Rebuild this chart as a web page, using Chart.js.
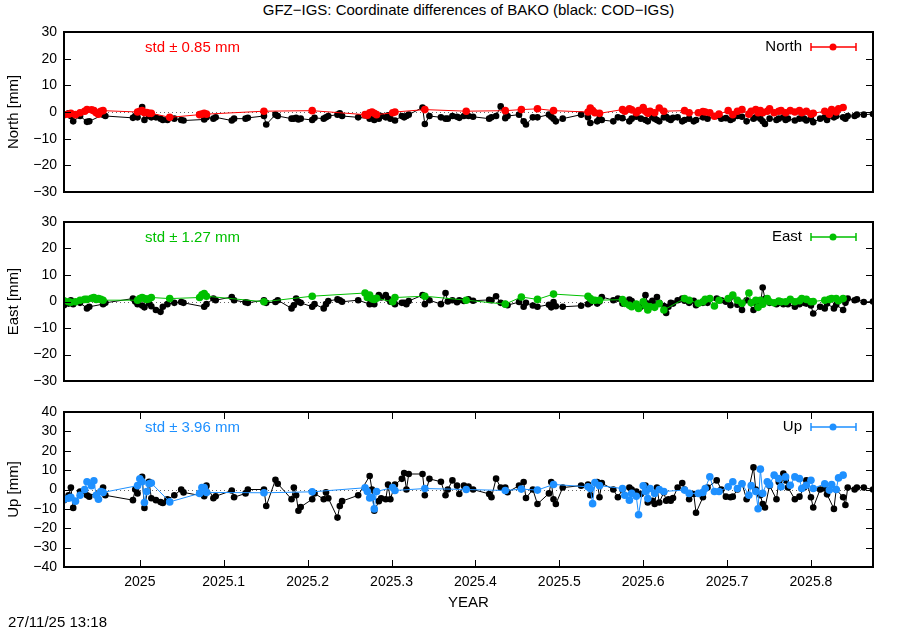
<!DOCTYPE html>
<html>
<head>
<meta charset="utf-8">
<script src="https://cdn.jsdelivr.net/npm/chart.js@4.4.1/dist/chart.umd.min.js"></script>
<style>
body { margin: 0; background: #fff; width: 900px; height: 630px; position: relative; overflow: hidden;
       font-family: "Liberation Sans", Arial, sans-serif; color: #000; }
canvas { position: absolute; left: 0; }
#title { position: absolute; top: 1px; left: 64px; width: 809px; text-align: center; font-size: 15px; line-height: 18px; }
#stamp { position: absolute; left: 8px; top: 613px; font-size: 15px; line-height: 18px; }
</style>
</head>
<body>
<div id="title">GFZ−IGS: Coordinate differences of BAKO (black: COD−IGS)</div>
<canvas id="north" width="900" height="200" style="top:0px"></canvas>
<canvas id="east" width="900" height="190" style="top:200px"></canvas>
<canvas id="up" width="900" height="240" style="top:390px"></canvas>
<div id="stamp">27/11/25 13:18</div>
<script>
// days relative to 2025.0
var codDay = [-33,-31,-30,-29,-26,-23,-22,-16,-15,-3,
  -2,-1,1,2,4,5,7,9,10,12,
  15,18,19,28,29,32,33,40,41,46,
  47,54,55,59,60,66,67,68,69,70,
  75,76,80,81,82,86,87,88,95,100,
  101,102,104,105,107,108,109,111,114,115,
  116,117,123,124,126,131,133,134,136,138,
  139,141,143,145,152,153,155,157,159,160,
  165,167,168,171,173,178,179,180,181,184,
  192,195,196,199,200,201,206,208,210,213,
  214,216,218,220,221,223,224,225,226,228,
  229,230,231,232,234,236,237,239,241,242,
  245,247,251,253,255,257,258,260,262,264,
  267,268,270,271,272,274,277,278,280,281,
  282,285,287,289,290,292,293,296,298,299,
  302,303,306,307,308,311,312,315,319];

var codNorth = [-1,-0.5,-1.5,-3.5,-1.5,-3.7,-3.5,-1,-1.5,-2.2,
  -1.5,-2,1.9,-3,-1.5,-2,-2,-2.5,-3,-3,
  -2.5,-3,-3.2,-2.8,-2,-2.5,-2,-3.2,-2.5,-2.5,
  -2.2,-1.5,-4.7,-1,-1.5,-2.5,-2.5,-2.2,-2.8,-2.5,
  -3,-2.2,-2.5,-2,-1.5,-1,-0.5,-1.5,-2,-2.5,
  -1,-3,-2.5,-1.5,-2,-1.2,-2.5,-3.2,-1.5,-2,
  -1.5,-1,1.7,-4.5,-1.5,-2,-2.5,-2.5,-1.5,-1.8,
  -2.2,-1.5,-1.5,-1.8,-2.5,-2,-1.5,2.1,-2.3,-1.5,
  -1,-3.5,-4.7,-2,-2,-1,-1.8,-2.5,-3.5,-2.5,
  -1,-2,-4.1,-3.5,-2.5,-3,-3.5,-2,-2.3,-3.5,
  -2.5,-1.8,-2.5,-3,-3.5,-2,-2.5,-3,-3.5,-2,
  -1.8,-2.5,-3,-2.2,-2,-3.5,-3,-2.5,-3.5,-3,
  -2,-2.5,-1.5,-2.5,-2.3,-3,-2.5,-1.5,-1.8,-3.5,
  -2.5,-2,-2.5,-3.5,-4.5,-2.5,-3,-2.5,-2,-3,
  -2.5,-3.2,-2.5,-2.5,-3.2,-2.5,-3.8,-2.5,-2,-3,
  -2,-1.5,-2,-2.5,-1.5,-1.5,-1,-1,-0.75];

var codEast = [-1.4,-0.8,0.5,-1,-0.5,-2.6,-2,-1,-0.5,1.1,
  0,-1,-1.5,-2.2,-0.8,-1.8,-3.2,-3.9,-2,-1,
  -0.5,-0.2,-0.5,-2,-1,1.1,0.5,1.7,0.5,-0.3,
  -0.5,0.5,-0.5,-0.2,0.5,-2.6,-1.4,1.1,-0.1,-0.5,
  -2,-1,-2.6,-1,0.2,0.8,0.5,-0.1,0.5,-1,
  0.5,-1,2.4,1.5,2.4,1,-0.1,-1,-0.5,-0.5,
  -1,0.2,2.4,-1,0.5,-1,3.2,0,0.5,-0.3,
  0.5,0.2,0.8,0.3,0.6,0.5,2,-0.5,-1,-1.4,
  -0.2,-2,-0.5,-1.5,-2,-1.2,-2.2,-0.2,-1.8,-2,
  -1.6,-1,-0.5,-0.8,0,1.7,0.5,1.1,-0.8,0.7,
  0.2,-1.4,-2,2.4,-0.8,0.3,-1.5,1.7,-0.5,-1.7,
  -4.3,-2,-0.5,-0.8,0.5,1.1,0.3,-0.5,0.3,-1.4,
  -0.5,-0.5,1.1,0.5,-0.1,-1.4,2,-1.2,-3.2,0.5,
  -3.2,-0.5,-1,5.3,1,-0.5,-1,-0.5,-1,-0.5,
  -1,-2,-1,-0.5,-0.8,-1.5,-4.5,-2,-2.6,-0.8,
  -2.6,-1.2,-3.2,-0.5,1.1,0.5,0.8,-0.2,0];

var codUp = [-5.5,-3,1,-9.5,-1,-3,-3.7,1,-3,-5.5,
  0,-2,6.5,-9.5,4,-4.5,-5.5,-6.5,-7,-5,
  -3,0,-1.5,-3.5,2,-4.5,-3.5,-0.5,-4,-2,
  0,0,-8.5,5,3,-5,1,-3,-11,-9,
  -5,-2,-5,-1.5,-4.5,-14.5,-8.5,-6,-3,7,
  0,-11,-6,-4.5,-5,2.5,-5,2.5,5.5,8.5,
  0,8,8,-3,5.5,4,-3,0,4.7,2,
  -2.3,2,1.5,0,-2.3,-4,5.6,1,1,-1.4,
  2,3.9,-4.4,0,-7.5,-2,3.9,-5,-7.5,1,
  2,2.6,-3,3.9,-4,3.3,0,-4,0,1,
  0,-1,-2.3,2,-6.7,-5.8,-7.5,1,-6.7,-1.4,
  -5.8,-5,-5.8,-4.4,1,3.3,0,-5,-2.3,-12,
  -4,1,4.7,0,-3.7,-4,-3.7,0,3,-5,
  11.4,0,-3,-7.5,-9.3,2,-5,3.9,8.2,4.7,
  1,-5,-3.7,1,4.7,-4,-9.3,0,0.5,-2.5,
  -10,0,-4,-8,1,0,1,1,0];

var gfzDay = [-33,-31,-30,-28,-26,-24,-23,-21,-20,-19,-18,-17,-16,
  -1,0,1,2,3,4,5,
  13,
  26,27,28,29,
  54,
  75,
  98,99,100,101,102,103,
  110,111,
  124,
  142,159,166,173,180,
  195,196,197,198,200,
  210,211,213,214,216,217,219,220,221,222,224,226,228,
  237,239,243,245,246,248,250,252,
  256,258,260,262,265,266,268,269,270,271,273,274,276,278,279,281,283,285,287,288,290,292,293,
  298,300,301,303,304,306];

var gfzNorth = [-1,-0.8,-0.5,-1,-0.3,0.3,0.9,0.8,0.5,-0.3,-0.8,0.3,0.5,
  0,0.3,0.5,-0.3,-0.2,-0.5,-0.5,
  -2,
  -1,-0.8,-0.5,-0.8,
  0.3,
  0.5,
  -1,-1.2,-0.3,0,-0.5,-1,
  -0.3,0,
  0.9,
  0.3,0.5,0.9,1.2,0.5,
  0,1.5,0.5,-0.3,-0.5,
  0.9,0.3,1.2,0.8,-0.3,0.5,1.7,0.3,-0.5,0.3,-0.3,1.5,0.3,
  0.5,-0.3,-0.3,0.2,0,-0.3,-1.6,-0.8,
  0.5,-1,0.3,0.9,-0.8,0.3,0.9,-0.3,0.5,-0.3,0.3,1.2,-0.3,0.3,0.5,-0.3,0.5,0,0.5,-0.3,0.3,-0.8,-0.5,
  0.3,-0.8,0.9,0,1.2,1.7];

var gfzEast = [0.3,-0.1,-0.3,-0.1,0.5,0.8,0.8,1.2,1.5,0.8,1.1,0.8,0.5,
  0.5,1.1,1.5,1.1,0.8,1,1.5,
  1.1,
  1.5,2.5,3,2,
  -0.1,
  2,
  3.2,1.5,2.4,1,0.8,1.2,
  -0.1,1.5,
  2,
  0.5,-1,1.7,0.8,2.8,
  2,1.1,0.5,0.5,0.5,
  0.7,-0.7,-1.4,-2,-1,-2.6,-0.1,-1.5,-3.2,-2,-2.2,-0.8,-3.2,
  1.1,0.5,-0.7,-0.1,0.8,1.1,-1.7,0.5,
  1.1,2.4,0.5,-0.7,3.2,-0.5,0.5,-2.2,0.5,-1,1.1,-0.1,-0.5,0.2,-0.1,-0.1,0.8,-0.1,0.3,1.1,0.8,-0.1,0,
  0.5,0.8,1.1,1.1,0.3,1.1];

var gfzUp = [-5,-4.5,-4,-6,-3,0,4,2,4.5,-3,-5,-1,-1.5,
  2,5.5,4,-6.7,-1,3,3.3,
  -6.4,
  -2,1,1,-1.5,
  -1.7,
  -1.2,
  0.9,-1,-4.4,-4,-10,-1,
  1,-0.5,
  0.5,
  0,-0.5,0.2,-0.3,2.6,
  1.4,0.5,-7.3,3.6,2,
  0.5,-3,-5.5,-2,-3.5,-13,1.9,-1,-4.7,0.5,-2,0,-1,
  -0.3,-2,-2,-1.5,0.5,6.6,-1,-1,
  1.4,4,0.5,3,-3,2,-1,-9.9,10.5,-2,4,2.5,7.4,5.6,1.4,6.5,2.2,6.5,5.6,0.5,2.2,4.8,0.5,
  3,-0.3,2.6,0,6,7.4];

var xTicks = [2025, 2025.1, 2025.2, 2025.3, 2025.4, 2025.5, 2025.6, 2025.7, 2025.8];
var yTicksNE = [-30, -20, -10, 0, 10, 20, 30];
var yTicksUp = [-40, -30, -20, -10, 0, 10, 20, 30, 40];

var FONT = '"Liberation Sans", Arial, sans-serif';

function toYear(d) { return 2025 + d / 365; }
function pts(days, vals) {
  return days.map(function (d, i) { return { x: toYear(d), y: vals[i] }; });
}
function minusFmt(v) { return v < 0 ? '\u2212' + (-v) : String(v); }

// gnuplot look: frame, inward mirrored ticks, dotted zero line, std text, key
var decor = {
  id: 'decor',
  beforeDatasetsDraw: function (chart, args, o) {
    var ctx = chart.ctx, a = chart.chartArea;
    var y0 = chart.scales.y.getPixelForValue(0);
    ctx.save();
    ctx.strokeStyle = '#666';
    ctx.lineWidth = 1;
    ctx.setLineDash([1, 3]);
    ctx.beginPath();
    ctx.moveTo(a.left, Math.round(y0) + 0.5);
    ctx.lineTo(a.right, Math.round(y0) + 0.5);
    ctx.stroke();
    ctx.restore();
  },
  afterDraw: function (chart, args, o) {
    var ctx = chart.ctx, a = chart.chartArea;
    var ys = chart.scales.y, xs = chart.scales.x;
    ctx.save();
    ctx.strokeStyle = '#000';
    ctx.lineWidth = 1;
    ys.ticks.forEach(function (t) {
      var p = Math.round(ys.getPixelForValue(t.value)) + 0.5;
      ctx.beginPath();
      ctx.moveTo(a.left, p); ctx.lineTo(a.left + 7, p);
      ctx.moveTo(a.right - 7, p); ctx.lineTo(a.right, p);
      ctx.stroke();
    });
    if (o.xTicks) {
      xs.ticks.forEach(function (t) {
        var p = Math.round(xs.getPixelForValue(t.value)) + 0.5;
        ctx.beginPath();
        ctx.moveTo(p, a.bottom); ctx.lineTo(p, a.bottom - 7);
        ctx.moveTo(p, a.top); ctx.lineTo(p, a.top + 7);
        ctx.stroke();
      });
    }
    ctx.lineWidth = 2;
    ctx.strokeRect(a.left, a.top, a.right - a.left, a.bottom - a.top);

    ctx.font = '15px ' + FONT;
    ctx.textBaseline = 'middle';
    ctx.fillStyle = o.color;
    ctx.textAlign = 'left';
    ctx.fillText(o.std, 145, a.top + 16);

    ctx.fillStyle = '#000';
    ctx.textAlign = 'right';
    var ky = a.top + 15;
    ctx.fillText(o.name, a.right - 71, ky);
    ctx.strokeStyle = o.color;
    ctx.lineWidth = 1.5;
    ctx.beginPath();
    ctx.moveTo(a.right - 62, ky); ctx.lineTo(a.right - 17, ky);
    ctx.moveTo(a.right - 62, ky - 4); ctx.lineTo(a.right - 62, ky + 4);
    ctx.moveTo(a.right - 17, ky - 4); ctx.lineTo(a.right - 17, ky + 4);
    ctx.stroke();
    ctx.fillStyle = o.color;
    ctx.beginPath();
    ctx.arc(a.right - 40, ky, 3.5, 0, Math.PI * 2);
    ctx.fill();
    ctx.restore();
  }
};

function panel(id, p) {
  return new Chart(document.getElementById(id), {
    type: 'line',
    data: {
      datasets: [{
        data: pts(gfzDay, p.gfz),
        borderColor: p.color,
        backgroundColor: p.color,
        borderWidth: 1,
        pointRadius: 3.8,
        pointBorderWidth: 0,
        tension: 0
      }, {
        data: pts(codDay, p.cod),
        borderColor: '#000',
        backgroundColor: '#000',
        borderWidth: 1,
        pointRadius: 3.3,
        pointBorderWidth: 0,
        tension: 0
      }]
    },
    options: {
      responsive: false,
      animation: false,
      events: [],
      layout: { padding: { left: 0, right: 27, top: p.top, bottom: p.bottom } },
      plugins: {
        legend: { display: false },
        tooltip: { enabled: false },
        decor: { color: p.color, std: p.std, name: p.name, xTicks: p.showX }
      },
      scales: {
        x: {
          type: 'linear',
          min: toYear(codDay[0]),
          max: toYear(codDay[codDay.length - 1]),
          display: p.showX,
          afterBuildTicks: function (s) { s.ticks = xTicks.map(function (v) { return { value: v }; }); },
          afterFit: function (s) { if (p.showX) s.height = 45; },
          grid: { display: false, drawTicks: false },
          border: { display: false },
          ticks: {
            color: '#000', padding: 7, maxRotation: 0, autoSkip: false,
            font: { family: FONT, size: 14 },
            callback: function (v) { return String(Math.round(v * 10) / 10); }
          },
          title: { display: p.showX, text: 'YEAR', color: '#000', font: { family: FONT, size: 15 }, padding: { top: 0, bottom: 0 } }
        },
        y: {
          min: p.yTicks[0],
          max: p.yTicks[p.yTicks.length - 1],
          afterBuildTicks: function (s) { s.ticks = p.yTicks.map(function (v) { return { value: v }; }); },
          afterFit: function (s) { s.width = 64; s.paddingTop = 0; s.paddingBottom = 0; },
          grid: { display: false, drawTicks: false },
          border: { display: false },
          ticks: { color: '#000', padding: 7, autoSkip: false, font: { family: FONT, size: 14 }, callback: minusFmt },
          title: { display: true, text: p.yTitle, color: '#000', font: { family: FONT, size: 15 }, padding: { top: 5, bottom: 0 } }
        }
      }
    },
    plugins: [decor]
  });
}

panel('north', { gfz: gfzNorth, cod: codNorth, color: '#ff0000', name: 'North', std: 'std \u00b1 0.85 mm',
  yTitle: 'North [mm]', yTicks: yTicksNE, top: 32, bottom: 8, showX: false });
panel('east', { gfz: gfzEast, cod: codEast, color: '#00c000', name: 'East', std: 'std \u00b1 1.27 mm',
  yTitle: 'East [mm]', yTicks: yTicksNE, top: 22, bottom: 9, showX: false });
panel('up', { gfz: gfzUp, cod: codUp, color: '#1e90ff', name: 'Up', std: 'std \u00b1 3.96 mm',
  yTitle: 'Up [mm]', yTicks: yTicksUp, top: 22, bottom: 18, showX: true });
</script>
</body>
</html>
